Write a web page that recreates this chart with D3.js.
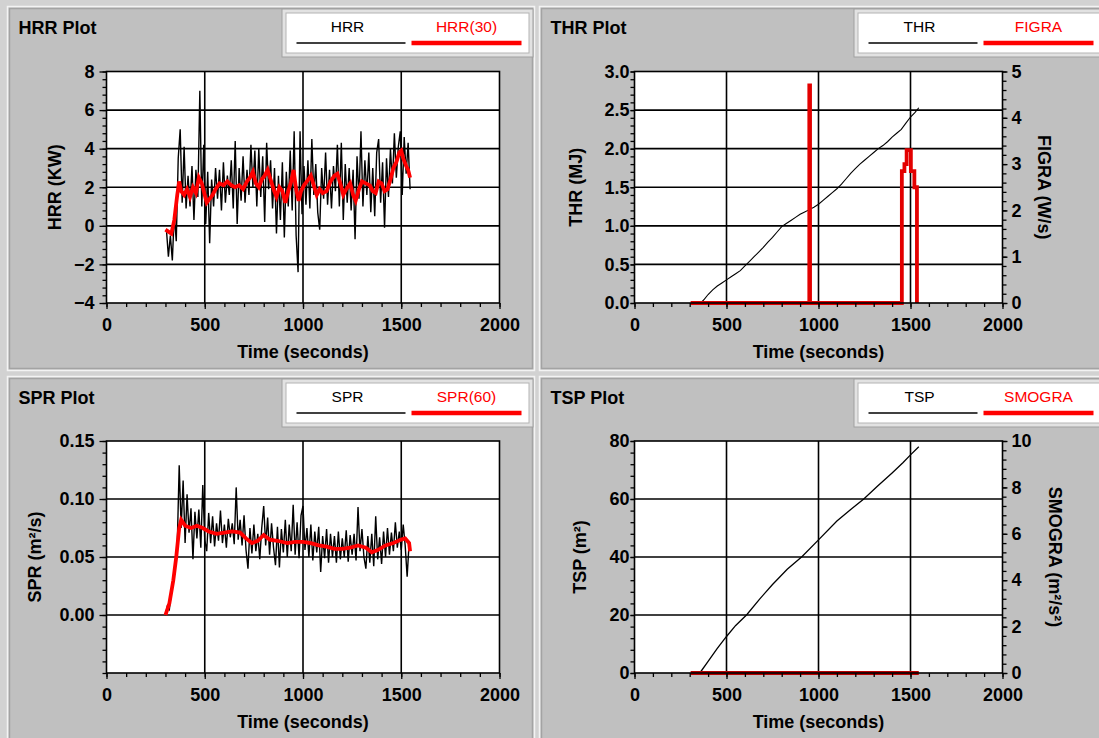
<!DOCTYPE html>
<html>
<head>
<meta charset="utf-8">
<script src="https://cdn.jsdelivr.net/npm/d3@7"></script>
<style>
  html, body { margin: 0; padding: 0; background: #d2d2d2; overflow: hidden; }
  svg { display: block; }
  text { font-family: "Liberation Sans", Arial, sans-serif; fill: #000; }
</style>
</head>
<body>
<svg id="chart" width="1099" height="738"></svg>
<script>
// ---------- data ----------
const timeTicks = [0, 500, 1000, 1500, 2000];

// HRR (kW), one reading every 10 s from 305 s
const hrrStart = 305, hrrStep = 10;
const hrrValues = [
  -0.2, -1.6, -0.5, -1.8, 0.6, -0.8, 3.5, 5.0, 1.2, 4.1,
  0.9, 2.6, 1.0, 3.1, 0.3, 2.9, 1.5, 7.0, 1.0, 4.2,
  0.1, 2.8, -0.9, 2.4, 1.0, 3.0, 1.4, 2.9, 0.8, 3.3,
  1.2, 2.6, 1.6, 3.4, 0.9, 4.4, 0.1, 3.0, 1.3, 3.6,
  1.2, 2.9, 1.6, 4.2, 2.0, 3.9, 1.0, 4.0, 1.5, 3.6,
  0.2, 4.3, 1.9, 3.4, 0.9, 3.0, -0.4, 2.6, 0.3, 3.3,
  -0.6, 2.8, 1.0, 3.9, 0.8, 4.9, -0.5, -2.4, 4.9, 0.6,
  3.1, 1.1, 3.4, 0.9, 4.5, 1.6, 3.2, 0.7, -0.2, 3.0,
  1.4, 3.8, 1.1, 2.9, 0.9, 3.1, 1.8, 4.2, 1.0, 4.3,
  0.3, 3.2, 1.2, 3.0, 0.8, 2.9, -0.7, 3.6, 1.4, 4.9,
  1.0, 3.4, 1.6, 3.8, 0.7, 3.0, 0.5, 3.8, 4.5, 1.2,
  3.3, -0.1, 3.5, 1.5, 4.0, 2.2, 4.8, 2.5, 4.1, 4.9,
  1.6, 4.6, 2.7, 4.3, 1.9
];

// HRR(30) running average
const hrr30Time = [300, 315, 330, 345, 360, 370, 380, 395, 410, 425, 440, 455, 470, 485, 500, 510,
  525, 540, 555, 575, 595, 615, 635, 655, 675, 695, 715, 730, 745, 760, 775, 790, 805, 820, 835,
  850, 865, 880, 895, 910, 925, 940, 952, 965, 978, 990, 1005, 1020, 1040, 1055, 1070, 1085, 1100,
  1120, 1140, 1160, 1175, 1190, 1205, 1220, 1240, 1255, 1268, 1285, 1300, 1320, 1340, 1355, 1370,
  1385, 1400, 1415, 1430, 1445, 1460, 1475, 1490, 1500, 1510, 1525, 1535, 1545];
const hrr30Values = [-0.2, -0.3, -0.4, 0.3, 1.6, 2.3, 1.8, 1.6, 1.9, 1.5, 2.0, 1.7, 2.5, 2.2, 1.6, 1.2,
  1.4, 1.6, 1.9, 2.2, 2.1, 2.3, 2.1, 2.0, 2.1, 1.9, 2.3, 2.5, 2.8, 2.2, 2.0, 2.4, 2.6, 2.9, 2.4,
  1.9, 1.5, 2.0, 1.8, 1.2, 1.8, 2.3, 2.9, 1.9, 1.3, 1.8, 2.1, 2.3, 2.6, 2.1, 1.6, 1.9, 1.7,
  1.8, 2.3, 2.6, 2.7, 2.2, 1.6, 1.9, 2.2, 1.6, 1.3, 1.9, 2.3, 2.2, 2.1, 1.8, 1.7,
  2.3, 2.2, 1.8, 1.9, 2.4, 3.0, 3.3, 3.8, 3.9, 3.5, 3.1, 2.9, 2.5];

// THR (MJ)
const thrTime = [360, 380, 400, 425, 450, 475, 500, 525, 550, 575, 600, 625, 650, 675, 700, 725, 750,
  775, 800, 825, 850, 875, 900, 925, 950, 975, 1000, 1025, 1050, 1075, 1100, 1125, 1150, 1175, 1200,
  1225, 1250, 1275, 1300, 1325, 1350, 1375, 1400, 1425, 1450, 1475, 1500, 1525, 1545];
const thrValues = [0.0, 0.05, 0.11, 0.17, 0.22, 0.26, 0.30, 0.34, 0.38, 0.42, 0.48, 0.54, 0.60, 0.66,
  0.72, 0.79, 0.85, 0.92, 0.99, 1.03, 1.07, 1.11, 1.15, 1.18, 1.21, 1.24, 1.28, 1.33, 1.38, 1.43, 1.48,
  1.54, 1.61, 1.68, 1.74, 1.80, 1.85, 1.90, 1.95, 2.00, 2.04, 2.09, 2.15, 2.20, 2.25, 2.33, 2.41, 2.47, 2.53];

// FIGRA (W/s)
const figraTime = [305, 950, 950, 954, 954, 1453, 1453, 1467, 1467, 1479, 1479, 1502, 1502, 1521, 1521, 1535, 1535];
const figraValues = [0, 0, 4.7, 4.7, 0, 0, 2.85, 2.85, 3.0, 3.0, 3.3, 3.3, 2.85, 2.85, 2.5, 2.5, 0];

// SPR (m²/s), one reading every 10 s from 300 s
const sprStart = 300, sprStep = 10;
const sprValues = [
  0.000, 0.008, 0.005, 0.020, 0.028, 0.045, 0.060, 0.129, 0.075, 0.116,
  0.062, 0.104, 0.071, 0.092, 0.048, 0.089, 0.066, 0.091, 0.058, 0.112,
  0.065, 0.055, 0.088, 0.062, 0.085, 0.059, 0.079, 0.064, 0.090, 0.062,
  0.078, 0.058, 0.083, 0.067, 0.079, 0.061, 0.110, 0.065, 0.082, 0.060,
  0.086, 0.056, 0.040, 0.075, 0.053, 0.078, 0.055, 0.070, 0.048, 0.075,
  0.094, 0.060, 0.084, 0.052, 0.079, 0.058, 0.043, 0.076, 0.041, 0.074,
  0.054, 0.082, 0.050, 0.078, 0.055, 0.095, 0.052, 0.080, 0.049, 0.086,
  0.094, 0.056, 0.075, 0.050, 0.078, 0.047, 0.072, 0.054, 0.076, 0.037,
  0.068, 0.049, 0.074, 0.045, 0.070, 0.050, 0.068, 0.045, 0.072, 0.048,
  0.066, 0.050, 0.073, 0.046, 0.069, 0.052, 0.070, 0.047, 0.093, 0.055,
  0.074, 0.050, 0.040, 0.068, 0.045, 0.070, 0.042, 0.085, 0.048, 0.067,
  0.044, 0.072, 0.050, 0.075, 0.052, 0.071, 0.055, 0.080, 0.058, 0.072,
  0.056, 0.078, 0.060, 0.033, 0.062
];

// SPR(60) running average
const spr60Time = [300, 320, 340, 355, 370, 380, 400, 430, 460, 490, 520, 560, 600, 640, 680, 710, 740,
  770, 800, 830, 870, 920, 960, 1000, 1040, 1080, 1120, 1160, 1200, 1240, 1280, 1320, 1350, 1380,
  1420, 1460, 1500, 1520, 1540, 1545];
const spr60Values = [0.000, 0.010, 0.030, 0.050, 0.075, 0.082, 0.077, 0.075, 0.077, 0.075, 0.072, 0.070,
  0.071, 0.072, 0.071, 0.066, 0.062, 0.064, 0.069, 0.065, 0.064, 0.062, 0.063, 0.063, 0.062, 0.060,
  0.059, 0.057, 0.057, 0.058, 0.060, 0.058, 0.054, 0.056, 0.060, 0.062, 0.065, 0.066, 0.062, 0.055];

// TSP (m²)
const tspTime = [355, 400, 450, 500, 550, 610, 680, 750, 830, 911, 1000, 1100, 1180, 1246, 1320, 1400, 1460, 1500, 1545];
const tspValues = [0, 4.0, 8.5, 12.6, 16.4, 20.1, 25.5, 30.5, 35.8, 40.2, 45.9, 52.4, 56.6, 60.0, 64.4, 69.0, 72.6, 75.2, 78.0];

// SMOGRA (m²/s²)
const smograTime = [305, 1545];
const smograValues = [0, 0];

// ---------- drawing ----------
const svg = d3.select('#chart');
const RED = '#f00';

function zip(ts, vs) { return ts.map((t, i) => [t, vs[i]]); }
function steps(start, step, vs) { return vs.map((v, i) => [start + i * step, v]); }
function minorRange(lo, hi, step) {
  return d3.range(0, Math.round((hi - lo) / step) + 1).map(i => +(lo + i * step).toFixed(6));
}

function drawPanel(p) {
  const [bx, by, bw, bh] = p.box;
  const g = svg.append('g');

  // panel frame (sunken windows look)
  g.append('rect').attr('x', bx - 2).attr('y', by - 2).attr('width', bw + 4).attr('height', bh + 4)
    .attr('fill', 'none').attr('stroke', '#f3f3f3').attr('stroke-width', 1.5);
  g.append('rect').attr('x', bx).attr('y', by).attr('width', bw).attr('height', bh)
    .attr('fill', '#c0c0c0').attr('stroke', '#a3a3a3').attr('stroke-width', 1.5);

  g.append('text').attr('x', bx + 9).attr('y', by + 25)
    .attr('font-size', 18).attr('font-weight', 'bold').text(p.title);

  // legend box
  const lg = g.append('g').attr('transform', `translate(${p.legend[0]},${p.legend[1]})`);
  lg.append('rect').attr('x', 0.5).attr('y', 0.5).attr('width', 251).attr('height', 48)
    .attr('fill', '#e2e2e2').attr('stroke', '#a0a0a0');
  lg.append('rect').attr('x', 4.5).attr('y', 4.5).attr('width', 243).attr('height', 40)
    .attr('fill', '#fff').attr('stroke', '#b4b4b4');
  lg.append('text').attr('x', 66).attr('y', 23).attr('text-anchor', 'middle')
    .attr('font-size', 15.5).text(p.names[0]);
  lg.append('text').attr('x', 185).attr('y', 23).attr('text-anchor', 'middle')
    .attr('font-size', 15.5).style('fill', RED).text(p.names[1]);
  lg.append('line').attr('x1', 15).attr('x2', 124).attr('y1', 34.5).attr('y2', 34.5)
    .attr('stroke', '#000').attr('stroke-width', 1.5);
  lg.append('line').attr('x1', 130).attr('x2', 240).attr('y1', 34.5).attr('y2', 34.5)
    .attr('stroke', RED).attr('stroke-width', 4.5);

  // scales
  const pl = p.plot;
  const x = d3.scaleLinear().domain([0, 2000]).range([pl.x, pl.x + pl.w]);
  const y = d3.scaleLinear().domain(p.yDomain).range([pl.y + pl.h, pl.y]);
  const y2 = p.y2Domain ? d3.scaleLinear().domain(p.y2Domain).range([pl.y + pl.h, pl.y]) : null;

  g.append('rect').attr('x', pl.x).attr('y', pl.y).attr('width', pl.w).attr('height', pl.h).attr('fill', '#fff');

  // grid
  const grid = g.append('g').attr('stroke', '#000').attr('stroke-width', 1.6);
  timeTicks.slice(1, -1).forEach(t => grid.append('line')
    .attr('x1', x(t)).attr('x2', x(t)).attr('y1', pl.y).attr('y2', pl.y + pl.h));
  p.yGrid.forEach(v => grid.append('line')
    .attr('x1', pl.x).attr('x2', pl.x + pl.w).attr('y1', y(v)).attr('y2', y(v)));

  // series
  const line1 = d3.line().x(d => x(d[0])).y(d => y(d[1]));
  const line2 = d3.line().x(d => x(d[0])).y(d => (y2 || y)(d[1]));
  g.append('path').datum(p.black).attr('d', line1).attr('fill', 'none')
    .attr('stroke', '#000').attr('stroke-width', p.blackWidth).attr('stroke-linejoin', 'miter');
  g.append('path').datum(p.red).attr('d', line2).attr('fill', 'none')
    .attr('stroke', p.redColor || RED).attr('stroke-width', 3.8);

  // frame
  g.append('rect').attr('x', pl.x).attr('y', pl.y).attr('width', pl.w).attr('height', pl.h)
    .attr('fill', 'none').attr('stroke', '#000').attr('stroke-width', 1.6);

  const styleAxis = a => {
    a.select('.domain').remove();
    a.selectAll('line').attr('stroke', '#000').attr('stroke-width', 1.3);
    a.selectAll('text').attr('font-size', 18).attr('font-weight', 'bold')
      .attr('font-family', '"Liberation Sans", Arial, sans-serif').style('fill', '#000');
  };

  // x axis
  g.append('g').attr('transform', `translate(0,${pl.y + pl.h})`)
    .call(d3.axisBottom(x).tickValues(minorRange(0, 2000, 100)).tickSize(4).tickFormat(''))
    .call(styleAxis);
  g.append('g').attr('transform', `translate(0,${pl.y + pl.h})`)
    .call(d3.axisBottom(x).tickValues(timeTicks).tickSize(6).tickPadding(9).tickFormat(d3.format('d')))
    .call(styleAxis);
  g.append('text').attr('x', pl.x + pl.w / 2).attr('y', pl.y + pl.h + 55).attr('text-anchor', 'middle')
    .attr('font-size', 18).attr('font-weight', 'bold').text('Time (seconds)');

  // left axis
  g.append('g').attr('transform', `translate(${pl.x},0)`)
    .call(d3.axisLeft(y).tickValues(minorRange(p.yDomain[0], p.yDomain[1], p.yMinor)).tickSize(4).tickFormat(''))
    .call(styleAxis);
  g.append('g').attr('transform', `translate(${pl.x},0)`)
    .call(d3.axisLeft(y).tickValues(p.yTicks).tickSize(p.leftTick[0]).tickPadding(p.leftTick[1])
      .tickFormat(d3.format(p.yFormat)))
    .call(styleAxis);
  g.append('text')
    .attr('transform', `translate(${p.yTitleX},${pl.y + pl.h / 2}) rotate(-90)`)
    .attr('dy', '0.35em').attr('text-anchor', 'middle')
    .attr('font-size', 18).attr('font-weight', 'bold').text(p.yTitle);

  // right axis
  if (y2) {
    g.append('g').attr('transform', `translate(${pl.x + pl.w},0)`)
      .call(d3.axisRight(y2).tickValues(minorRange(p.y2Domain[0], p.y2Domain[1], p.y2Minor)).tickSize(4).tickFormat(''))
      .call(styleAxis);
    g.append('g').attr('transform', `translate(${pl.x + pl.w},0)`)
      .call(d3.axisRight(y2).tickValues(p.y2Ticks).tickSize(5).tickPadding(4).tickFormat(d3.format('d')))
      .call(styleAxis);
    g.append('text')
      .attr('transform', `translate(${p.y2TitleX},${pl.y + pl.h / 2}) rotate(90)`)
      .attr('dy', '0.35em').attr('text-anchor', 'middle')
      .attr('font-size', 18).attr('font-weight', 'bold').text(p.y2Title);
  }
}

drawPanel({
  title: 'HRR Plot', box: [9.5, 8.5, 523, 360], legend: [281.5, 8.5], names: ['HRR', 'HRR(30)'],
  plot: { x: 106.5, y: 71.5, w: 393, h: 231.5 },
  yDomain: [-4, 8], yTicks: [-4, -2, 0, 2, 4, 6, 8], yGrid: [-2, 0, 2, 4, 6], yMinor: 0.4, yFormat: 'd',
  leftTick: [7, 5], yTitle: 'HRR (KW)', yTitleX: 55,
  black: steps(hrrStart, hrrStep, hrrValues), blackWidth: 1.4,
  red: zip(hrr30Time, hrr30Values)
});

drawPanel({
  title: 'THR Plot', box: [541.5, 8.5, 580, 360], legend: [853.5, 8.5], names: ['THR', 'FIGRA'],
  plot: { x: 634.5, y: 71.5, w: 368, h: 231.5 },
  yDomain: [0, 3], yTicks: [0, 0.5, 1, 1.5, 2, 2.5, 3], yGrid: [0.5, 1, 1.5, 2, 2.5], yMinor: 0.1, yFormat: '.1f',
  leftTick: [4, 1], yTitle: 'THR (MJ)', yTitleX: 576,
  y2Domain: [0, 5], y2Ticks: [0, 1, 2, 3, 4, 5], y2Minor: 0.2, y2Title: 'FIGRA (W/s)', y2TitleX: 1044,
  black: zip(thrTime, thrValues), blackWidth: 1.1,
  red: zip(figraTime, figraValues), redColor: '#e30000'
});

drawPanel({
  title: 'SPR Plot', box: [9.5, 378.5, 523, 370], legend: [281.5, 378.5], names: ['SPR', 'SPR(60)'],
  plot: { x: 106.5, y: 441, w: 393, h: 232 },
  yDomain: [-0.05, 0.15], yTicks: [0, 0.05, 0.1, 0.15], yGrid: [0, 0.05, 0.1], yMinor: 0.01, yFormat: '.2f',
  leftTick: [7, 5], yTitle: 'SPR (m²/s)', yTitleX: 35,
  black: steps(sprStart, sprStep, sprValues), blackWidth: 1.4,
  red: zip(spr60Time, spr60Values)
});

drawPanel({
  title: 'TSP Plot', box: [541.5, 378.5, 580, 370], legend: [853.5, 378.5], names: ['TSP', 'SMOGRA'],
  plot: { x: 634.5, y: 441, w: 368, h: 232 },
  yDomain: [0, 80], yTicks: [0, 20, 40, 60, 80], yGrid: [20, 40, 60], yMinor: 4, yFormat: 'd',
  leftTick: [4, 1], yTitle: 'TSP (m²)', yTitleX: 580,
  y2Domain: [0, 10], y2Ticks: [0, 2, 4, 6, 8, 10], y2Minor: 0.4, y2Title: 'SMOGRA (m²/s²)', y2TitleX: 1055,
  black: zip(tspTime, tspValues), blackWidth: 1.3,
  red: zip(smograTime, smograValues), redColor: '#b80000'
});
</script>
</body>
</html>
